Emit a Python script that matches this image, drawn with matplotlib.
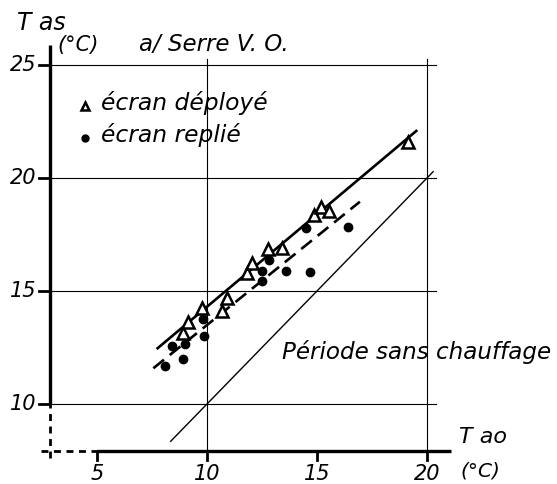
import matplotlib
matplotlib.use('Agg')
import matplotlib.pyplot as plt

# Données (T ao, T as en °C)
deploye_x = [8.92, 9.15, 9.76, 10.67, 10.92, 11.80, 12.03, 12.79, 13.40, 14.86, 15.17, 15.56, 19.15]
deploye_y = [13.13, 13.64, 14.23, 14.12, 14.70, 15.81, 16.25, 16.85, 16.92, 18.36, 18.73, 18.55, 21.61]
replie_x = [8.09, 8.42, 8.92, 9.00, 9.88, 9.83, 12.51, 12.51, 12.82, 13.59, 14.68, 14.50, 16.40]
replie_y = [11.69, 12.58, 11.98, 12.65, 13.02, 13.76, 15.88, 15.46, 16.37, 15.88, 15.85, 17.80, 17.82]

# droites d'ajustement (extrémités lues)
fit_deploye_x = [7.71, 19.56]
fit_deploye_y = [12.43, 22.12]
fit_replie_x = [7.56, 16.95]
fit_replie_y = [11.58, 18.95]
sans_chauffage = [8.35, 20.28]  # droite T as = T ao

x_ticks = [5, 10, 15, 20]
y_ticks = [10, 15, 20, 25]

plt.rcParams['font.family'] = ['DejaVu Sans']
font = dict(style='italic', color='black')

fig = plt.figure(figsize=(5.57, 4.84), dpi=100)
ax = fig.add_axes([0, 0, 1, 1])
ax.set_xlim(0.591, 25.91)
ax.set_ylim(6.46, 27.876)
ax.axis('off')

x0, y0 = 2.86, 7.93   # origine des axes

# grille
for y in y_ticks:
    ax.plot([x0, 20.4], [y, y], color='black', lw=0.8)
for x in [10, 20]:
    ax.plot([x, x], [y0, 25.25], color='black', lw=0.8)

# axes
ax.plot([x0, x0], [10, 25.9], color='black', lw=2.4, solid_capstyle='butt')
ax.plot([x0, x0], [7.6, 10], color='black', lw=2.0, ls=(0, (2.5, 2)))
ax.plot([5, 21.1], [y0, y0], color='black', lw=2.4, solid_capstyle='butt')
ax.plot([2.45, 5], [y0, y0], color='black', lw=2.0, ls=(0, (2.5, 2)))
for x in x_ticks:
    ax.plot([x, x], [y0, y0 - 0.4], color='black', lw=2.0)
for y in y_ticks:
    ax.plot([x0 - 0.5, x0], [y, y], color='black', lw=2.0)

# droites
ax.plot(sans_chauffage, sans_chauffage, color='black', lw=1.0)
ax.plot(fit_deploye_x, fit_deploye_y, color='black', lw=1.9, solid_capstyle='butt')
ax.plot(fit_replie_x, fit_replie_y, color='black', lw=1.9, ls=(0, (5.2, 2.8)))

# points
ax.plot(deploye_x, deploye_y, ls='none', marker='^', ms=8.5, mfc='white',
        mec='black', mew=1.8)
ax.plot(replie_x, replie_y, ls='none', marker='o', ms=6, color='black')

# textes
for x in x_ticks:
    ax.text(x, 6.9, str(x), ha='center', va='center', fontsize=15, **font)
for y in y_ticks:
    ax.text(x0 - 0.6, y, str(y), ha='right', va='center', fontsize=15, **font)

ax.text(1.35, 26.85, 'T as', ha='left', va='center', fontsize=17, **font)
ax.text(3.2, 25.9, '(°C)', ha='left', va='center', fontsize=15, **font)
ax.text(6.9, 25.9, 'a/ Serre V. O.', ha='left', va='center', fontsize=16.5, **font)
ax.plot([4.45], [23.2], ls='none', marker='^', ms=6, mfc='white', mec='black', mew=1.8)
ax.text(5.2, 23.3, 'écran déployé', ha='left', va='center', fontsize=16.8, **font)
ax.plot([4.45], [21.75], ls='none', marker='o', ms=5, color='black')
ax.text(5.2, 21.9, 'écran replié', ha='left', va='center', fontsize=16.8, **font)
ax.text(13.4, 12.3, 'Période sans chauffage', ha='left', va='center', fontsize=16.6, **font)
ax.text(21.45, 8.55, 'T ao', ha='left', va='center', fontsize=16, **font)
ax.text(21.5, 7.05, '(°C)', ha='left', va='center', fontsize=14.5, **font)

fig.savefig('out.png', dpi=100)
